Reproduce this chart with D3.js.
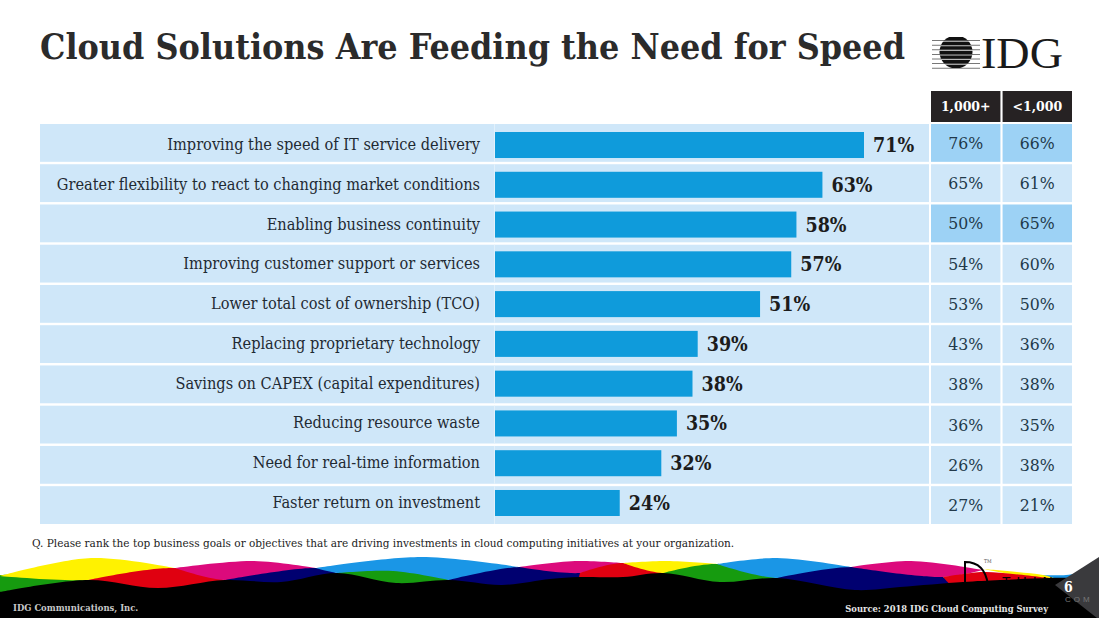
<!DOCTYPE html>
<html lang="en">
<head>
<meta charset="utf-8">
<title>Cloud Solutions Are Feeding the Need for Speed</title>
<script src="https://cdnjs.cloudflare.com/ajax/libs/d3/7.8.5/d3.min.js"></script>
<style>
    html, body { margin: 0; padding: 0; background: #fff; overflow: hidden; }
    svg { display: block; }
    text { font-family: "DejaVu Serif Condensed", "DejaVu Serif", serif; }
</style>
</head>
<body>
<svg id="chart" width="1099" height="618"></svg>
<script>
// data
var categories = [
    "Improving the speed of IT service delivery",
    "Greater flexibility to react to changing market conditions",
    "Enabling business continuity",
    "Improving customer support or services",
    "Lower total cost of ownership (TCO)",
    "Replacing proprietary technology",
    "Savings on CAPEX (capital expenditures)",
    "Reducing resource waste",
    "Need for real-time information",
    "Faster return on investment"
];
var total = [71, 63, 58, 57, 51, 39, 38, 35, 32, 24];
var large = [76, 65, 50, 54, 53, 43, 38, 36, 26, 27];
var small = [66, 61, 65, 60, 50, 36, 38, 35, 38, 21];
var sizeLabels = ["1,000+", "<1,000"];
var highlightRows = [0, 2];

var svg = d3.select("#chart");

// rows and bars drift apart slightly in the original, so they get separate scales
var idx = d3.range(categories.length);
var y = d3.scaleBand().domain(idx).range([124, 524]).paddingInner(0.06);
var yBar = d3.scaleBand().domain(idx).range([132, 516]).paddingInner(0.346);
var x = d3.scaleLinear().domain([0, 71]).range([495, 864]);
var col = d3.scaleBand().domain([0, 1]).range([931, 1072]).paddingInner(0.03);

svg.append("text")
    .attr("x", 40).attr("y", 59)
    .attr("font-size", 36).attr("font-weight", "bold")
    .attr("fill", "#2b2b2b")
    .attr("textLength", 865).attr("lengthAdjust", "spacingAndGlyphs")
    .text("Cloud Solutions Are Feeding the Need for Speed");

// IDG logo
var logo = svg.append("g");
logo.append("clipPath").attr("id", "globe")
    .append("circle").attr("cx", 956).attr("cy", 52).attr("r", 16.5);
d3.range(7).forEach(function (i) {
    var ly = 37 + i * 4.6;
    logo.append("rect").attr("x", 932).attr("y", ly + 3.2).attr("width", 48).attr("height", 0.8).attr("fill", "#555");
    logo.append("rect").attr("x", 936).attr("y", ly).attr("width", 40).attr("height", 3.4)
        .attr("fill", "#111").attr("clip-path", "url(#globe)");
});
logo.append("text")
    .attr("x", 981).attr("y", 68)
    .attr("font-size", 44).attr("fill", "#1a1a1a")
    .style("font-family", "'Liberation Serif', serif")
    .attr("textLength", 82).attr("lengthAdjust", "spacingAndGlyphs")
    .text("IDG");

// column headers
var head = svg.selectAll("g.head").data(sizeLabels).enter().append("g").attr("class", "head");
head.append("rect")
    .attr("x", function (d, i) { return col(i); })
    .attr("y", 91).attr("width", col.bandwidth()).attr("height", 31)
    .attr("fill", "#262223");
head.append("text")
    .attr("x", function (d, i) { return col(i) + col.bandwidth() / 2; })
    .attr("y", 111).attr("text-anchor", "middle")
    .attr("font-size", 12.5).attr("font-weight", "bold").attr("fill", "#fff")
    .style("font-family", "'DejaVu Serif', serif")
    .text(function (d) { return d; });

// row backgrounds and the two size columns
var rows = svg.selectAll("g.row").data(categories).enter().append("g")
    .attr("class", "row")
    .attr("transform", function (d, i) { return "translate(0," + y(i) + ")"; });

rows.append("rect")
    .attr("x", 40).attr("width", 889).attr("height", y.bandwidth())
    .attr("fill", "#cfe7f9");
rows.append("rect")
    .attr("x", 494).attr("width", 1).attr("height", y.bandwidth())
    .attr("fill", "#e3f1fb");

[large, small].forEach(function (values, c) {
    rows.append("rect")
        .attr("x", col(c)).attr("width", col.bandwidth()).attr("height", y.bandwidth())
        .attr("fill", function (d, i) { return highlightRows.indexOf(i) >= 0 ? "#9dd2f5" : "#cfe7f9"; });
    rows.append("text")
        .attr("x", col(c) + col.bandwidth() / 2)
        .attr("y", y.bandwidth() / 2 + 6)
        .attr("text-anchor", "middle")
        .attr("font-size", 17.5).attr("fill", "#22394a")
        .text(function (d, i) { return values[i] + "%"; });
});

// bars with their labels
var bars = svg.selectAll("g.bar").data(categories).enter().append("g")
    .attr("class", "bar")
    .attr("transform", function (d, i) { return "translate(0," + yBar(i) + ")"; });

bars.append("text")
    .attr("x", 480).attr("y", 18)
    .attr("text-anchor", "end")
    .attr("font-size", 16.2).attr("fill", "#1f2a33")
    .text(function (d) { return d; });

bars.append("rect")
    .attr("x", x(0))
    .attr("width", function (d, i) { return x(total[i]) - x(0); })
    .attr("height", yBar.bandwidth())
    .attr("fill", "#0f9bdb");

bars.append("text")
    .attr("x", function (d, i) { return x(total[i]) + 9; })
    .attr("y", 20)
    .attr("font-size", 19.5).attr("font-weight", "bold").attr("fill", "#1c1c1c")
    .text(function (d, i) { return total[i] + "%"; });

svg.append("text")
    .attr("x", 32).attr("y", 547)
    .attr("font-size", 11.7).attr("fill", "#222")
    .text("Q. Please rank the top business goals or objectives that are driving investments in cloud computing initiatives at your organization.");

// footer ribbon: each band is [colour, top edge, bottom edge]
// bottoms that meet the black run deep, the black layer trims them
var yellow = "#fff200", green = "#169b0f", red = "#e00010", magenta = "#dc0a7c", navy = "#000070", blue = "#1a96e6";
var bands = [
    [green, [[0, 575], [35, 574], [88, 580]], [[0, 600], [88, 600]]],
    [yellow, [[0, 576], [91, 558], [175, 568]], [[0, 576], [88, 580], [175, 568]]],
    [red, [[88, 580], [175, 568], [225, 580]], [[88, 580], [88, 600], [225, 600], [225, 580]]],
    [magenta, [[175, 568], [253, 561], [316, 568]], [[175, 568], [225, 580], [316, 568]]],
    [navy, [[225, 580], [316, 568], [337, 573]], [[225, 580], [225, 600], [337, 600], [337, 573]]],
    [blue, [[316, 568], [421, 557], [519, 567]], [[316, 568], [337, 573], [449, 580], [519, 567]]],
    [green, [[337, 573], [393, 571], [449, 580]], [[337, 573], [337, 600], [449, 600], [449, 580]]],
    [navy, [[449, 580], [519, 567], [580, 573], [623, 572]], [[449, 580], [449, 600], [623, 600]]],
    [magenta, [[519, 567], [575, 561], [623, 563]], [[519, 567], [580, 573], [623, 563]]],
    [red, [[580, 573], [623, 563], [663, 573]], [[580, 573], [580, 600], [663, 600], [663, 573]]],
    [yellow, [[623, 563], [667, 561], [717, 564]], [[623, 563], [663, 573], [717, 564]]],
    [green, [[663, 573], [717, 564], [777, 578]], [[663, 573], [663, 600], [777, 600], [777, 578]]],
    [blue, [[717, 564], [777, 558], [851, 567]], [[717, 564], [777, 578], [851, 567]]],
    [navy, [[777, 578], [851, 567], [943, 577]], [[777, 578], [777, 600], [975, 600], [943, 577]]],
    [magenta, [[851, 567], [911, 561], [983, 570]], [[851, 567], [943, 577], [983, 570]]],
    [blue, [[1040, 575], [1066, 575], [1085, 572]], [[1040, 575], [1040, 600], [1085, 600]]],
    [yellow, [[983, 569], [1017, 572], [1043, 575], [1060, 580]], [[983, 569], [1060, 584]]],
    [red, [[943, 577], [983, 572], [1013, 574], [1057, 579]], [[943, 577], [972, 600], [1057, 600], [1057, 579]]]
];
var edge = d3.line().curve(d3.curveCatmullRom);
svg.selectAll("path.band").data(bands).enter().append("path")
    .attr("class", "band")
    .attr("fill", function (d) { return d[0]; })
    .attr("d", function (d) {
        return edge(d[1]) + "L" + edge(d[2].slice().reverse()).slice(1) + "Z";
    });

// partner mark, mostly hidden behind the ribbon
svg.append("text")
    .attr("x", 1002).attr("y", 587)
    .attr("font-size", 14).attr("fill", "#000").attr("letter-spacing", 6)
    .style("font-family", "'Liberation Sans', sans-serif")
    .text("THIN");

var blackTop = [[0, 592], [88, 580], [158, 588], [225, 580], [281, 582], [337, 573], [396, 583], [449, 580],
    [502, 585], [550, 579], [580, 577], [623, 577], [663, 573], [720, 582], [777, 578], [855, 590], [900, 587],
    [963, 582], [1000, 580], [1050, 578], [1099, 578]];
svg.append("path")
    .attr("fill", "#000")
    .attr("d", edge(blackTop) + "L1099,618L0,618Z");

svg.append("path")
    .attr("fill", "none").attr("stroke", "#000").attr("stroke-width", 2)
    .attr("d", "M965,585V562C978,562 986,570 988,585");
svg.append("text")
    .attr("x", 984).attr("y", 563)
    .attr("font-size", 5).attr("fill", "#555")
    .text("TM");

// page number tag
svg.append("path")
    .attr("fill", "#3a3a3d")
    .attr("d", "M1099,557L1055,585L1097,618H1099Z");
svg.append("text")
    .attr("x", 1064).attr("y", 592)
    .attr("font-size", 14).attr("font-weight", "bold").attr("fill", "#fff")
    .text("6");
svg.append("text")
    .attr("x", 1065).attr("y", 602)
    .attr("font-size", 8).attr("fill", "#777")
    .attr("letter-spacing", 3)
    .style("font-family", "'Liberation Sans', sans-serif")
    .text("COM");

svg.append("text")
    .attr("x", 13).attr("y", 611)
    .attr("font-size", 9.4).attr("font-weight", "bold").attr("fill", "#c8c8c8")
    .text("IDG Communications, Inc.");
svg.append("text")
    .attr("x", 1048).attr("y", 612)
    .attr("text-anchor", "end")
    .attr("font-size", 9.3).attr("font-weight", "bold").attr("fill", "#e6e6e6")
    .text("Source: 2018 IDG Cloud Computing Survey");
</script>
</body>
</html>
